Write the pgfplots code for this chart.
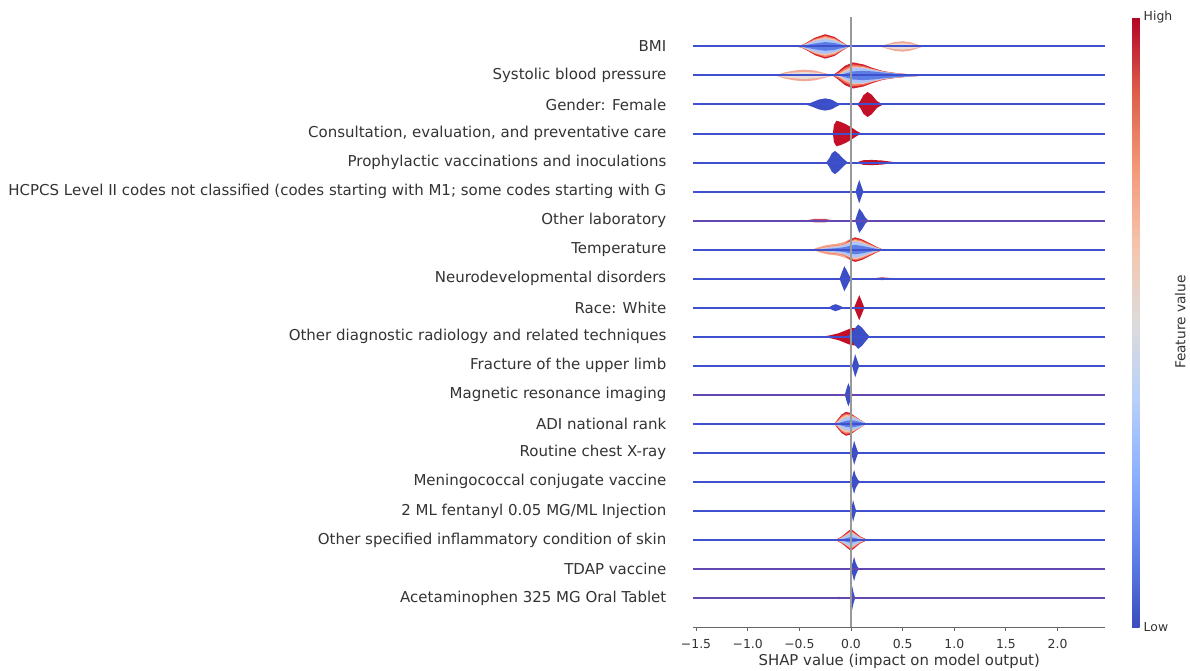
\documentclass[border=0pt]{standalone}
\usepackage{fontspec}
\setmainfont{DejaVu Sans}
\usepackage{pgfplots}
\usepackage{pgfplotstable}
\pgfplotsset{compat=1.18}

\definecolor{lineB}{RGB}{62,80,205}
\definecolor{lineP}{RGB}{100,72,178}
\definecolor{vR}{RGB}{208,32,45}
\definecolor{vC}{RGB}{240,115,90}
\definecolor{vP}{RGB}{246,192,168}
\definecolor{vL}{RGB}{172,198,250}
\definecolor{vB}{RGB}{92,125,228}
\definecolor{pS}{RGB}{242,168,148}
\definecolor{pW}{RGB}{234,220,216}
\definecolor{bV}{RGB}{60,78,198}
\definecolor{dR}{RGB}{195,16,40}
\definecolor{fR}{RGB}{200,70,100}
\definecolor{txt}{RGB}{51,51,51}

\pgfplotsset{colormap={cw}{rgb255=(58,76,192) rgb255=(98,130,234) rgb255=(141,176,254) rgb255=(184,208,249) rgb255=(221,220,219) rgb255=(245,196,173) rgb255=(244,154,123) rgb255=(222,96,77) rgb255=(180,4,38)}}

% half-polygon layers: table, row, column, colour
\newcommand{\vl}[4]{%
\addplot[fill=#4, draw=none] table[x=x, y expr={#2+\thisrow{#3}}] {#1};
\addplot[fill=#4, draw=none] table[x=x, y expr={#2-\thisrow{#3}}] {#1};
}

% ---------- violin profiles (x = SHAP value, h = half height in rows) ----------
\pgfplotstableread{
x h1 h2 h3 h4 h5
-0.54 0 0 0 0 0
-0.48 0.04 0.035 0.03 0.025 0.014
-0.43 0.13 0.11 0.10 0.08 0.045
-0.35 0.30 0.26 0.23 0.19 0.10
-0.25 0.42 0.37 0.32 0.26 0.15
-0.16 0.33 0.29 0.25 0.20 0.12
-0.09 0.16 0.14 0.12 0.10 0.056
-0.04 0.05 0.044 0.038 0.03 0.018
-0.01 0 0 0 0 0
}\tBMIa
\pgfplotstableread{
x h1 h2
0.28 0 0
0.35 0.08 0.05
0.42 0.15 0.09
0.50 0.18 0.11
0.58 0.14 0.08
0.65 0.06 0.035
0.70 0 0
}\tBMIb
\pgfplotstableread{
x h1 h2
-0.73 0 0
-0.65 0.10 0.06
-0.55 0.17 0.10
-0.45 0.20 0.12
-0.35 0.17 0.10
-0.25 0.08 0.05
-0.17 0 0
}\tSBPa
\pgfplotstableread{
x h1 h2 h3 h4 h5
-0.18 0 0 0 0 0
-0.12 0.15 0.10 0.05 0.01 0.005
-0.06 0.33 0.25 0.18 0.12 0.06
0.02 0.45 0.38 0.31 0.26 0.14
0.12 0.38 0.33 0.29 0.26 0.16
0.21 0.26 0.23 0.21 0.19 0.14
0.31 0.15 0.14 0.13 0.12 0.10
0.44 0.08 0.075 0.07 0.07 0.06
0.60 0.03 0.03 0.028 0.028 0.025
0.73 0 0 0 0 0
}\tSBPb
\pgfplotstableread{
x h
-0.44 0
-0.38 0.07
-0.31 0.17
-0.25 0.21
-0.19 0.17
-0.14 0.07
-0.10 0
}\tGb
\pgfplotstableread{
x h
0.06 0
0.09 0.12
0.12 0.32
0.16 0.43
0.20 0.34
0.25 0.12
0.31 0
}\tGr
\pgfplotstableread{
x h
-0.175 0
-0.165 0.30
-0.14 0.44
-0.10 0.40
-0.05 0.32
0.00 0.22
0.05 0.10
0.10 0
}\tCons
\pgfplotstableread{
x h
-0.24 0
-0.21 0.15
-0.185 0.32
-0.155 0.40
-0.12 0.30
-0.07 0.12
-0.03 0
}\tPb
\pgfplotstableread{
x h
0.05 0
0.12 0.08
0.20 0.09
0.30 0.07
0.45 0
}\tPr
\pgfplotstableread{
x h
0.045 0
0.065 0.25
0.08 0.40
0.095 0.25
0.12 0
}\tH
\pgfplotstableread{
x h
0.04 0
0.06 0.22
0.08 0.42
0.11 0.28
0.14 0.10
0.17 0
}\tOL
\pgfplotstableread{
x h
-0.45 0
-0.35 0.06
-0.25 0.06
-0.17 0
}\tOLr
\pgfplotstableread{
x hp hr hc hk hl hb
-0.38 0 0 0 0 0 0
-0.30 0.10 0 0.05 0.04 0.02 0.01
-0.22 0.17 0 0.12 0.10 0.07 0.03
-0.14 0.20 0 0.15 0.13 0.10 0.05
-0.07 0.26 0.18 0.19 0.17 0.14 0.08
0.00 0.38 0.36 0.32 0.29 0.25 0.14
0.04 0.42 0.42 0.37 0.33 0.28 0.16
0.10 0.36 0.36 0.32 0.28 0.23 0.13
0.17 0.24 0.24 0.21 0.18 0.14 0.08
0.24 0.11 0.11 0.09 0.08 0.06 0.03
0.31 0 0 0 0 0 0
}\tT
\pgfplotstableread{
x h
-0.11 0
-0.09 0.20
-0.065 0.43
-0.04 0.28
-0.015 0.10
0.005 0
}\tN
\pgfplotstableread{
x h
0.19 0
0.30 0.05
0.45 0
}\tNr
\pgfplotstableread{
x h
-0.22 0
-0.18 0.08
-0.15 0.12
-0.11 0.07
-0.07 0
}\tRb
\pgfplotstableread{
x h
0.03 0
0.055 0.22
0.08 0.43
0.105 0.22
0.13 0
}\tRr
\pgfplotstableread{
x h
-0.28 0
-0.20 0.05
-0.12 0.12
-0.05 0.22
0.00 0.29
0.05 0.30
0.10 0.22
0.15 0.08
0.18 0
}\tODr
\pgfplotstableread{
x h
-0.04 0
0.00 0.12
0.04 0.30
0.07 0.42
0.11 0.30
0.15 0.12
0.18 0
}\tODb
\pgfplotstableread{
x h
0.01 0
0.03 0.25
0.04 0.40
0.055 0.25
0.08 0
}\tF
\pgfplotstableread{
x h
-0.06 0
-0.04 0.25
-0.025 0.40
-0.01 0.25
0.015 0
}\tM
\pgfplotstableread{
x h1 h2 h3 h4 h5
-0.16 0 0 0 0 0
-0.13 0.15 0.11 0.08 0.04 0.01
-0.09 0.32 0.27 0.22 0.15 0.06
-0.05 0.41 0.35 0.30 0.22 0.10
-0.01 0.38 0.33 0.29 0.24 0.12
0.03 0.28 0.26 0.24 0.21 0.11
0.07 0.18 0.17 0.16 0.15 0.08
0.11 0.09 0.085 0.08 0.075 0.04
0.15 0 0 0 0 0
}\tA
\pgfplotstableread{
x h
0.0 0
0.02 0.25
0.03 0.42
0.045 0.25
0.07 0
}\tCx
\pgfplotstableread{
x h
0.0 0
0.02 0.28
0.03 0.42
0.045 0.22
0.07 0.06
0.10 0
}\tMe
\pgfplotstableread{
x h
0.0 0
0.012 0.22
0.02 0.38
0.032 0.22
0.05 0
}\tFe
\pgfplotstableread{
x h1 h2 h3 h4 h5
-0.20 0 0 0 0 0
-0.14 0.02 0.01 0.005 0 0
-0.09 0.12 0.10 0.08 0.06 0.02
-0.045 0.25 0.21 0.18 0.15 0.06
0.00 0.38 0.33 0.29 0.24 0.10
0.045 0.25 0.21 0.18 0.15 0.06
0.09 0.12 0.10 0.08 0.06 0.02
0.15 0.02 0.01 0.005 0 0
0.25 0 0 0 0 0
}\tOS
\pgfplotstableread{
x h
0.0 0
0.02 0.28
0.03 0.42
0.045 0.22
0.065 0.06
0.085 0
}\tTd
\pgfplotstableread{
x h
-0.005 0
0.005 0.22
0.012 0.40
0.022 0.22
0.04 0
}\tAc
\pgfplotstableread{
x h
-0.20 0
-0.12 0.04
-0.03 0
}\tAcr

\begin{document}
\begin{tikzpicture}
\begin{axis}[
  name=main,
  scale only axis, width=412.5pt, height=609.6pt,
  xmin=-1.5295, xmax=2.4637, ymin=-1, ymax=20,
  axis x line*=bottom, axis y line*=left,
  y axis line style={draw=none},
  x axis line style={draw=black!60, line width=0.9pt},
  no markers,
  xtick={-1.5,-1.0,-0.5,0,0.5,1.0,1.5,2.0},
  xticklabels={−1.5,−1.0,−0.5,0.0,0.5,1.0,1.5,2.0},
  xtick style={draw=black!60, line width=0.9pt},
  tick align=outside, major tick length=3.5pt,
  xticklabel style={font=\fontsize{12.4}{14}\selectfont, text=txt, inner sep=0pt, yshift=-8.5pt},
  ytick={0,...,19},
  yticklabels={Acetaminophen 325 MG Oral Tablet, TDAP vaccine, Other specified inflammatory condition of skin, 2 ML fentanyl 0.05 MG/ML Injection, Meningococcal conjugate vaccine, Routine chest X-ray, ADI national rank, Magnetic resonance imaging, Fracture of the upper limb, Other diagnostic radiology and related techniques, {Race: White}, Neurodevelopmental disorders, Temperature, Other laboratory, {HCPCS Level II codes not classified (codes starting with M1; some codes starting with G}, Prophylactic vaccinations and inoculations, {Consultation, evaluation, and preventative care}, {Gender: Female}, Systolic blood pressure, BMI},
  ytick style={draw=none},
  yticklabel style={font=\fontsize{15}{17}\selectfont, text=txt, anchor=east, inner sep=0pt, xshift=-23pt},
  xlabel={SHAP value (impact on model output)},
  xlabel style={font=\fontsize{14.9}{17}\selectfont, text=txt, at={(axis description cs:0.5,0)}, anchor=center, yshift=-34pt},
  colormap name=cw,
  colorbar right, point meta min=0, point meta max=1,
  colorbar style={
    at={(parent axis.north east)}, anchor=north west, xshift=18pt,
    width=7.5pt,
    axis line style={draw=none},
    ytick={0,1}, yticklabels={Low,High},
    ytick style={draw=none},
    yticklabel style={font=\fontsize{12.4}{14}\selectfont, text=txt, anchor=west, inner sep=0pt, xshift=4pt},
    ylabel={Feature value},
    ylabel style={font=\fontsize{13.7}{16}\selectfont, text=txt, at={(axis description cs:6.44,0.5)}, anchor=center},
  },
]
% BMI (row 19)
\vl{\tBMIb}{19}{h1}{pS}
\vl{\tBMIb}{19}{h2}{pW}
\vl{\tBMIa}{19}{h1}{vR}
\vl{\tBMIa}{19}{h2}{vC}
\vl{\tBMIa}{19}{h3}{vP}
\vl{\tBMIa}{19}{h4}{vL}
\vl{\tBMIa}{19}{h5}{vB}
% Systolic (18)
\vl{\tSBPa}{18}{h1}{pS}
\vl{\tSBPa}{18}{h2}{pW}
\vl{\tSBPb}{18}{h1}{vR}
\vl{\tSBPb}{18}{h2}{vC}
\vl{\tSBPb}{18}{h3}{vP}
\vl{\tSBPb}{18}{h4}{vL}
\vl{\tSBPb}{18}{h5}{vB}
% Gender (17)
\vl{\tGb}{17}{h}{bV}
\vl{\tGr}{17}{h}{dR}
% Consultation (16)
\vl{\tCons}{16}{h}{dR}
% Prophylactic (15)
\vl{\tPb}{15}{h}{bV}
\vl{\tPr}{15}{h}{dR}
% HCPCS (14)
\vl{\tH}{14}{h}{bV}
% Other laboratory (13)
\vl{\tOL}{13}{h}{bV}
\vl{\tOLr}{13}{h}{fR}
% Temperature (12)
\vl{\tT}{12}{hp}{pS}
\vl{\tT}{12}{hr}{vR}
\vl{\tT}{12}{hc}{vC}
\vl{\tT}{12}{hk}{vP}
\vl{\tT}{12}{hl}{vL}
\vl{\tT}{12}{hb}{vB}
% Neurodevelopmental (11)
\vl{\tN}{11}{h}{bV}
\vl{\tNr}{11}{h}{fR}
% Race (10)
\vl{\tRb}{10}{h}{bV}
\vl{\tRr}{10}{h}{dR}
% Other diagnostic radiology (9)
\vl{\tODr}{9}{h}{dR}
\vl{\tODb}{9}{h}{bV}
% Fracture (8)
\vl{\tF}{8}{h}{bV}
% MRI (7)
\vl{\tM}{7}{h}{bV}
% ADI (6)
\vl{\tA}{6}{h1}{vR}
\vl{\tA}{6}{h2}{vC}
\vl{\tA}{6}{h3}{vP}
\vl{\tA}{6}{h4}{vL}
\vl{\tA}{6}{h5}{vB}
% chest X-ray (5)
\vl{\tCx}{5}{h}{bV}
% Meningococcal (4)
\vl{\tMe}{4}{h}{bV}
% fentanyl (3)
\vl{\tFe}{3}{h}{bV}
% Other specified inflammatory (2)
\vl{\tOS}{2}{h1}{vR}
\vl{\tOS}{2}{h2}{vC}
\vl{\tOS}{2}{h3}{vP}
\vl{\tOS}{2}{h4}{vL}
\vl{\tOS}{2}{h5}{vB}
% TDAP (1)
\vl{\tTd}{1}{h}{bV}
% Acetaminophen (0)
\vl{\tAcr}{0}{h}{fR}
\vl{\tAc}{0}{h}{bV}
% row lines
\pgfplotsinvokeforeach{2,3,4,5,6,8,9,10,11,12,14,15,16,17,18,19}{
  \addplot[lineB, line width=2.0pt] coordinates {(-1.5295,#1) (2.4637,#1)};
}
\pgfplotsinvokeforeach{0,1,7,13}{
  \addplot[lineP, line width=2.0pt] coordinates {(-1.5295,#1) (2.4637,#1)};
}
% zero line
\addplot[color={rgb,255:red,153;green,153;blue,153}, line width=1.2pt] coordinates {(0,-1) (0,20)};
\end{axis}
\pgfresetboundingbox
\path ([xshift=-693pt,yshift=-43pt]main.south west) rectangle ([xshift=497pt,yshift=627pt]main.south west);
\end{tikzpicture}
\end{document}
